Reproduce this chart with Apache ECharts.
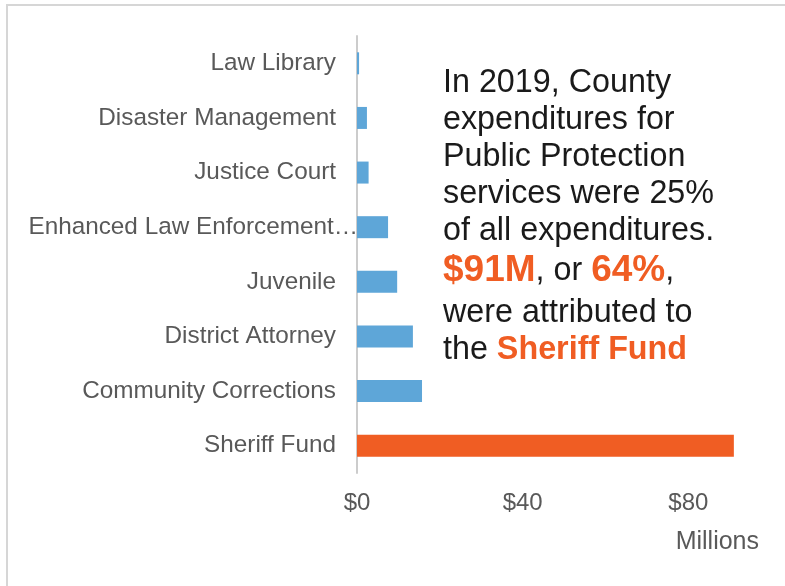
<!DOCTYPE html>
<html>
<head>
<meta charset="utf-8">
<script src="https://cdn.jsdelivr.net/npm/echarts@6/dist/echarts.min.js"></script>
<style>
  html, body { margin: 0; padding: 0; background: #ffffff; }
  #chart { width: 785px; height: 586px; }
</style>
</head>
<body>
<div id="chart"></div>
<script>
// Public Protection expenditures by fund, 2019 (millions of dollars)
const categories = [
  'Law Library',
  'Disaster Management',
  'Justice Court',
  'Enhanced Law Enforcement…',
  'Juvenile',
  'District Attorney',
  'Community Corrections',
  'Sheriff Fund'
];
const values = [0.5, 2.4, 2.8, 7.5, 9.7, 13.5, 15.7, 91];
const highlighted = 'Sheriff Fund';
const tickValues = [0, 40, 80];
const axisUnit = 'Millions';

const FONT = "'Liberation Sans', Arial, sans-serif";
const BLUE = '#5EA6D8';
const ORANGE = '#F05D23';
const LABEL_GREY = '#595959';
const TEXT_DARK = '#1a1a1a';
const LONG_LABEL = 'Enhanced Law Enforcement…';

const chart = echarts.init(document.getElementById('chart'), null, { renderer: 'canvas' });

const option = {
  animation: false,
  backgroundColor: '#ffffff',
  grid: { left: 357, right: 47, top: 36, bottom: 113, containLabel: false },
  xAxis: {
    type: 'value',
    min: 0,
    max: 92,
    interval: 40,
    axisLine: { show: false },
    axisTick: { show: false },
    splitLine: { show: false },
    axisLabel: {
      margin: 18,
      fontSize: 24,
      fontFamily: FONT,
      color: LABEL_GREY,
      showMaxLabel: false,
      formatter: v => (tickValues.indexOf(v) >= 0 ? '$' + v : '')
    }
  },
  yAxis: {
    type: 'category',
    inverse: true,
    data: categories,
    axisLine: { show: true, lineStyle: { color: '#cccccc', width: 2 } },
    axisTick: { show: false },
    splitLine: { show: false },
    axisLabel: {
      margin: 21,
      fontSize: 24.3,
      fontFamily: FONT,
      color: LABEL_GREY,
      formatter: v => (v === LONG_LABEL ? '' : v)
    }
  },
  series: [{
    type: 'bar',
    barWidth: 22,
    data: categories.map((c, i) => ({
      value: values[i],
      itemStyle: { color: c === highlighted ? ORANGE : BLUE }
    }))
  }]
};

chart.setOption(option);

// Text drawn beside the bars: overflowing category label, axis unit, note block
const longY = chart.convertToPixel({ yAxisIndex: 0 }, LONG_LABEL);
const zeroX = chart.convertToPixel({ xAxisIndex: 0 }, 0);

const noteLines = [
  { y: 83, text: 'In 2019, County' },
  { y: 120, text: 'expenditures for' },
  { y: 157, text: 'Public Protection' },
  { y: 194, text: 'services were 25%' },
  { y: 231, text: 'of all expenditures.' },
  { y: 271, text: '{hl|$91M}, or {hl|64%},' },
  { y: 313, text: 'were attributed to' },
  { y: 350, text: 'the {hl2|Sheriff Fund}' }
];

const graphics = [
  {
    type: 'rect',
    silent: true,
    shape: { x: 7, y: 5, width: 800, height: 600 },
    style: { fill: null, stroke: '#d6d6d6', lineWidth: 2 }
  },
  {
    type: 'text',
    x: zeroX + 1,
    y: longY,
    style: {
      text: LONG_LABEL,
      font: '24.3px ' + FONT,
      fill: LABEL_GREY,
      align: 'right',
      verticalAlign: 'middle'
    }
  },
  {
    type: 'text',
    x: 759,
    y: 542,
    style: {
      text: axisUnit,
      font: '25px ' + FONT,
      fill: LABEL_GREY,
      align: 'right',
      verticalAlign: 'middle'
    }
  }
];

noteLines.forEach(l => {
  graphics.push({
    type: 'text',
    x: 443,
    y: l.y,
    style: {
      text: l.text,
      font: '32.3px ' + FONT,
      fill: TEXT_DARK,
      align: 'left',
      verticalAlign: 'middle',
      rich: {
        hl: { font: 'bold 37px ' + FONT, fill: ORANGE, verticalAlign: 'middle' },
        hl2: { font: 'bold 32.3px ' + FONT, fill: ORANGE, verticalAlign: 'middle' }
      }
    }
  });
});

chart.setOption({ graphic: graphics });
</script>
</body>
</html>
